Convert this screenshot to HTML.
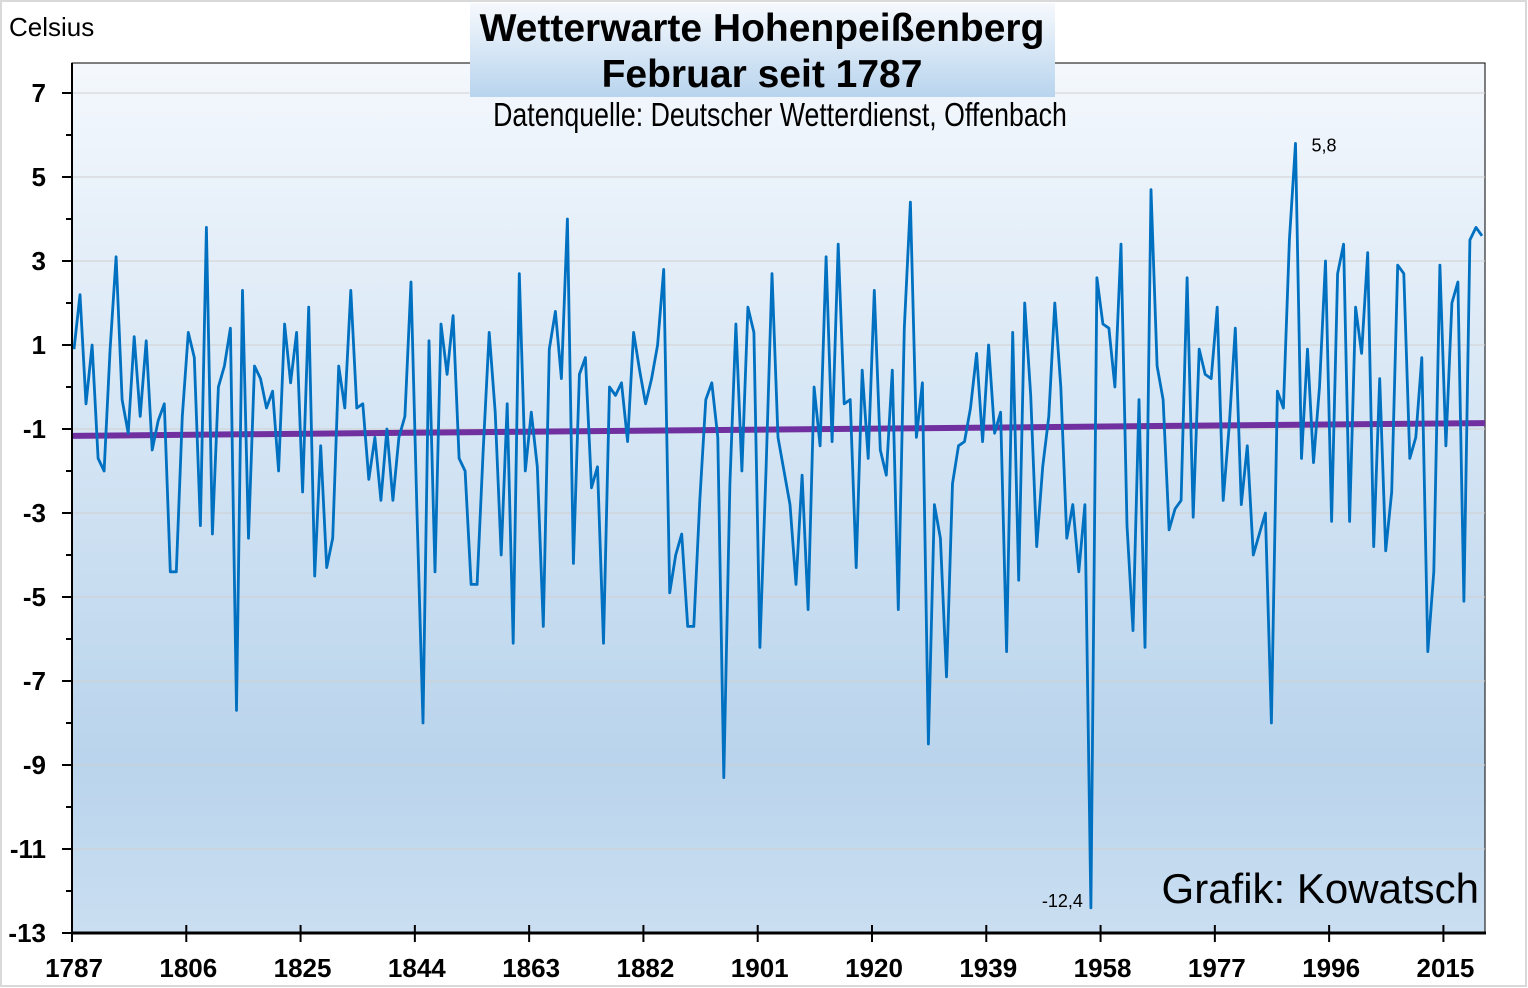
<!DOCTYPE html>
<html><head><meta charset="utf-8"><style>
html,body{margin:0;padding:0;background:#fff;}
#wrap{position:relative;width:1528px;height:988px;overflow:hidden;font-family:"Liberation Sans",Arial,sans-serif;}
svg{position:absolute;left:0;top:0;}
</style></head><body>
<div id="wrap">
<svg id="chart" width="1528" height="988" viewBox="0 0 1528 988">
<defs>
<linearGradient id="bg" x1="0" y1="0" x2="0" y2="1">
<stop offset="0" stop-color="#f4f8fd"/>
<stop offset="0.8" stop-color="#b9d4ec"/>
<stop offset="1" stop-color="#cadef1"/>
</linearGradient>
<linearGradient id="tbg" x1="0" y1="0" x2="0" y2="1">
<stop offset="0" stop-color="#f6f9fd"/>
<stop offset="1" stop-color="#b8d4ee"/>
</linearGradient>
</defs>
<rect x="1" y="1" width="1525" height="985" fill="#fff" stroke="#d9d9d9" stroke-width="2"/>
<rect x="72" y="63" width="1413" height="870" fill="url(#bg)" stroke="#000" stroke-width="1"/>
<g id="grid"></g>
<g id="trend"></g>
<g id="series"></g>
<g id="axes"></g>
<rect x="470" y="3" width="585" height="94" fill="url(#tbg)"/>
<text x="762" y="41" text-anchor="middle" font-size="39" font-weight="bold" fill="#000">Wetterwarte Hohenpeißenberg</text>
<text x="762" y="87" text-anchor="middle" font-size="39" font-weight="bold" fill="#000">Februar seit 1787</text>
<text x="0" y="0" transform="translate(780,126) scale(0.81,1)" text-anchor="middle" font-size="33" fill="#000">Datenquelle: Deutscher Wetterdienst, Offenbach</text>
<text x="9" y="36" font-size="26" fill="#000">Celsius</text>
<text x="1479" y="903" text-anchor="end" font-size="42" fill="#000">Grafik: Kowatsch</text>
<g id="annot"></g>
</svg>
</div>
<script>
const startYear = 1787;
const values = [
0.9,2.2,-0.4,1.0,-1.7,-2.0,0.9,3.1,-0.3,-1.1,1.2,-0.7,1.1,-1.5,-0.8,-0.4,-4.4,-4.4,-0.7,1.3,
0.7,-3.3,3.8,-3.5,0.0,0.5,1.4,-7.7,2.3,-3.6,0.5,0.2,-0.5,-0.1,-2.0,1.5,0.1,1.3,-2.5,1.9,
-4.5,-1.4,-4.3,-3.6,0.5,-0.5,2.3,-0.5,-0.4,-2.2,-1.2,-2.7,-1.0,-2.7,-1.2,-0.7,2.5,-3.0,-8.0,1.1,
-4.4,1.5,0.3,1.7,-1.7,-2.0,-4.7,-4.7,-1.5,1.3,-0.6,-4.0,-0.4,-6.1,2.7,-2.0,-0.6,-1.9,-5.7,0.9,
1.8,0.2,4.0,-4.2,0.3,0.7,-2.4,-1.9,-6.1,0.0,-0.2,0.1,-1.3,1.3,0.4,-0.4,0.2,1.0,2.8,-4.9,
-4.0,-3.5,-5.7,-5.7,-2.7,-0.3,0.1,-1.2,-9.3,-2.3,1.5,-2.0,1.9,1.3,-6.2,-2.0,2.7,-1.2,-2.0,-2.8,
-4.7,-2.1,-5.3,0.0,-1.4,3.1,-1.3,3.4,-0.4,-0.3,-4.3,0.4,-1.7,2.3,-1.5,-2.1,0.4,-5.3,1.4,4.4,
-1.2,0.1,-8.5,-2.8,-3.6,-6.9,-2.3,-1.4,-1.3,-0.5,0.8,-1.3,1.0,-1.1,-0.6,-6.3,1.3,-4.6,2.0,-0.2,
-3.8,-1.9,-0.7,2.0,0.0,-3.6,-2.8,-4.4,-2.8,-12.4,2.6,1.5,1.4,0.0,3.4,-3.3,-5.8,-0.3,-6.2,4.7,
0.5,-0.3,-3.4,-2.9,-2.7,2.6,-3.1,0.9,0.3,0.2,1.9,-2.7,-0.9,1.4,-2.8,-1.4,-4.0,-3.5,-3.0,-8.0,
-0.1,-0.5,3.5,5.8,-1.7,0.9,-1.8,0.0,3.0,-3.2,2.7,3.4,-3.2,1.9,0.8,3.2,-3.8,0.2,-3.9,-2.5,
2.9,2.7,-1.7,-1.2,0.7,-6.3,-4.4,2.9,-1.4,2.0,2.5,-5.1,3.5,3.8,3.6
];
const yTicks = [7,5,3,1,-1,-3,-5,-7,-9,-11,-13];
const xTickYears = [1787,1806,1825,1844,1863,1882,1901,1920,1939,1958,1977,1996,2015];
const maxLabel = "5,8";
const minLabel = "-12,4";

const NS = "http://www.w3.org/2000/svg";
const X0 = 74, DX = 6.017, YTOP = 93, PXU = 42;
function xs(year){ return X0 + (year - startYear) * DX; }
function ys(v){ return YTOP + (7 - v) * PXU; }
function mk(tag, attrs, parent){
  const e = document.createElementNS(NS, tag);
  for (const k in attrs) e.setAttribute(k, attrs[k]);
  parent.appendChild(e);
  return e;
}
const grid = document.getElementById('grid');
const axes = document.getElementById('axes');
const series = document.getElementById('series');
const trend = document.getElementById('trend');
const annot = document.getElementById('annot');

yTicks.forEach(v => {
  const y = ys(v);
  if (v !== -13) {
    const g = mk('line', {x1:72, x2:1485, y1:y, y2:y, stroke:'#d0d0d0', 'stroke-width':1}, grid);
    
    
  }
  const t = mk('line', {x1:62, x2:72, y1:y, y2:y, stroke:'#000', 'stroke-width':2}, axes);
  
  
  const lab = mk('text', {x:46, y:y+9, 'text-anchor':'end', 'font-size':26, 'font-weight':'bold', fill:'#000'}, axes);
  lab.textContent = v;
  
  
  if (v !== 7) {
    const m = mk('line', {x1:66, x2:72, y1:ys(v+1), y2:ys(v+1), stroke:'#000', 'stroke-width':2}, axes);
    
    
  }
});
const ya = mk('line', {x1:72, x2:72, y1:63, y2:934, stroke:'#000', 'stroke-width':2}, axes);


const xa = mk('line', {x1:71, x2:1486, y1:933, y2:933, stroke:'#000', 'stroke-width':3}, axes);


xTickYears.forEach(yr => {
  const x = 72 + (yr - startYear) * 6.015;
  const t = mk('line', {x1:x, x2:x, y1:925, y2:942, stroke:'#000', 'stroke-width':2}, axes);
  
  
  const lab = mk('text', {x:x+2, y:977, 'text-anchor':'middle', 'font-size':26, 'font-weight':'bold', fill:'#000'}, axes);
  lab.textContent = yr;
  
  
});

const n = values.length;
let sx=0, sy=0, sxx=0, sxy=0;
values.forEach((v,i)=>{ sx+=i; sy+=v; sxx+=i*i; sxy+=i*v; });
const slope = (n*sxy - sx*sy)/(n*sxx - sx*sx);
const icpt = (sy - slope*sx)/n;
const tl = mk('line', {x1:72, y1:ys(icpt), x2:1485, y2:ys(icpt + slope*(n-1)), stroke:'#7030a0', 'stroke-width':6}, trend);



const pts = values.map((v,i)=> xs(startYear+i).toFixed(1)+','+ys(v).toFixed(1)).join(' ');
const pl = mk('polyline', {points:pts, fill:'none', stroke:'#0070c0', 'stroke-width':2.8, 'stroke-linejoin':'round'}, series);



let iMax = 0, iMin = 0;
values.forEach((v,i)=>{ if (v>values[iMax]) iMax=i; if (v<values[iMin]) iMin=i; });
const a1 = mk('text', {x:xs(startYear+iMax)+16, y:ys(values[iMax])+8, 'font-size':18, fill:'#000'}, annot);
a1.textContent = maxLabel;


const a2 = mk('text', {x:xs(startYear+iMin)-8, y:ys(values[iMin])-1, 'text-anchor':'end', 'font-size':18, fill:'#000'}, annot);
a2.textContent = minLabel;


</script>
</body></html>
